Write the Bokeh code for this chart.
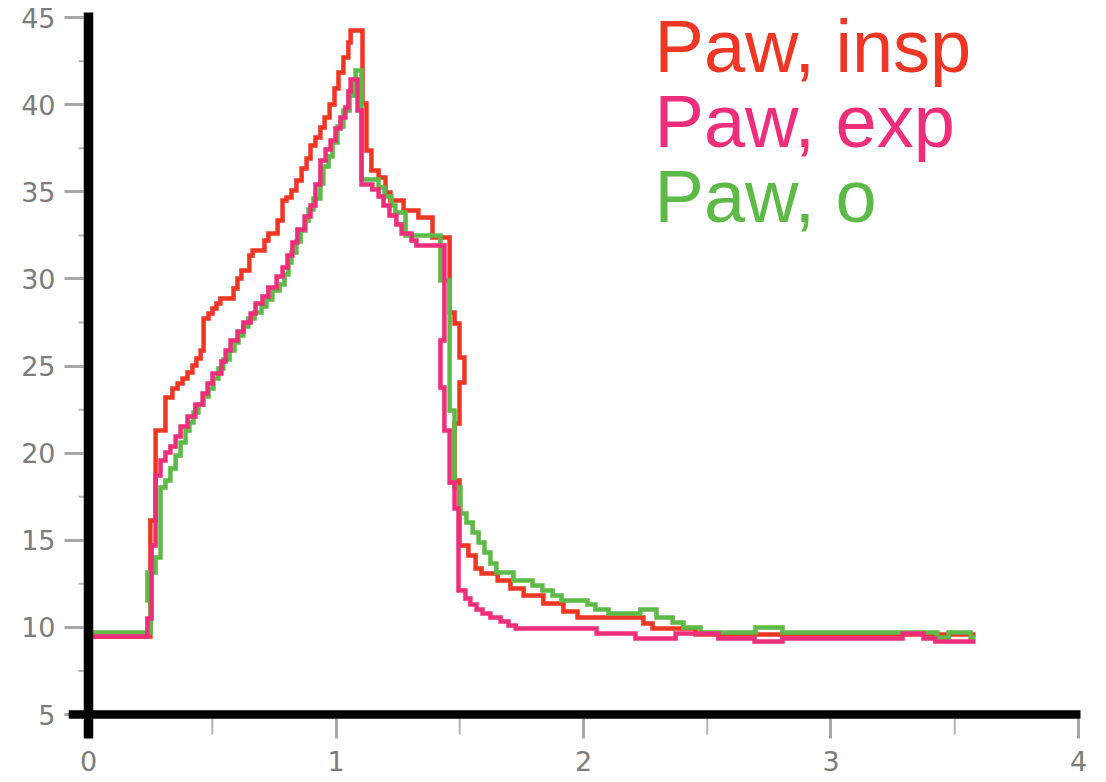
from bokeh.plotting import figure
from bokeh.models import Range1d, FixedTicker, Label
from bokeh.embed import file_html
from bokeh.resources import INLINE

# ---- data (time in s, airway pressure) ----
series_names = ["Paw, insp", "Paw, exp", "Paw, o"]
series_colors = ["#EF3524", "#EE2E7B", "#5DBA47"]

red_t = [0.008, 0.250, 0.271, 0.311, 0.339, 0.360, 0.380, 0.400, 0.420, 0.436, 0.453, 0.465, 0.485, 0.501,
         0.517, 0.533, 0.586, 0.602, 0.618, 0.650, 0.663, 0.711, 0.727, 0.764, 0.784, 0.800, 0.820, 0.840,
         0.861, 0.881, 0.897, 0.917, 0.937, 0.954, 0.974, 0.994, 1.010, 1.030, 1.050, 1.059, 1.107, 1.123,
         1.143, 1.172, 1.200, 1.220, 1.273, 1.333, 1.390, 1.459, 1.479, 1.499, 1.519, 1.499, 1.479, 1.499,
         1.535, 1.564, 1.588, 1.653, 1.705, 1.758, 1.838, 1.919, 1.976, 2.242, 2.279, 2.453, 3.584]
red_p = [9.48, 16.14, 21.30, 23.20, 23.71, 24.00, 24.29, 24.63, 25.03, 25.44, 25.90, 27.73, 28.02, 28.31,
         28.59, 28.88, 29.45, 30.03, 30.49, 31.35, 31.64, 32.21, 32.61, 33.36, 34.51, 34.68, 35.08, 35.65,
         36.34, 36.92, 37.66, 38.12, 38.70, 39.27, 40.02, 40.94, 41.85, 42.72, 43.58, 44.27, 40.07, 37.38,
         36.23, 35.83, 34.97, 34.51, 33.93, 33.53, 32.38, 28.08, 27.45, 25.49, 24.06, 21.70, 18.43, 14.70,
         14.13, 13.38, 13.09, 12.69, 12.23, 11.83, 11.37, 10.91, 10.57, 10.22, 9.94, 9.59, 9.59]

pink_t = [0.008, 0.238, 0.255, 0.271, 0.291, 0.311, 0.331, 0.352, 0.372, 0.400, 0.432, 0.461, 0.481, 0.501,
          0.537, 0.554, 0.574, 0.602, 0.626, 0.655, 0.675, 0.703, 0.727, 0.760, 0.784, 0.804, 0.824, 0.844,
          0.873, 0.897, 0.917, 0.937, 0.958, 0.978, 0.998, 1.018, 1.038, 1.050, 1.059, 1.087, 1.103, 1.147,
          1.172, 1.192, 1.216, 1.244, 1.265, 1.305, 1.325, 1.438, 1.422, 1.438, 1.459, 1.479, 1.495, 1.523,
          1.543, 1.568, 1.592, 1.624, 1.665, 1.697, 1.726, 2.053, 2.210, 2.372, 2.545, 2.691, 2.804, 3.289,
          3.374, 3.422, 3.584]
pink_p = [9.48, 10.51, 14.70, 18.72, 19.58, 20.04, 20.38, 20.96, 21.53, 22.11, 22.80, 23.43, 24.00, 24.58,
          25.26, 25.90, 26.47, 26.99, 27.50, 28.02, 28.59, 29.00, 29.51, 30.14, 30.66, 31.35, 32.10, 32.84,
          33.59, 34.22, 35.42, 36.80, 37.43, 37.95, 38.64, 39.27, 39.84, 40.76, 41.45, 39.67, 35.42, 35.14,
          34.74, 34.22, 33.65, 33.13, 32.61, 32.21, 31.92, 26.47, 23.77, 21.30, 18.32, 16.83, 12.12, 11.66,
          11.31, 11.03, 10.80, 10.57, 10.34, 10.11, 9.94, 9.65, 9.36, 9.65, 9.36, 9.19, 9.36, 9.65,
          9.36, 9.19, 9.19]

green_t = [0.008, 0.251, 0.238, 0.271, 0.291, 0.311, 0.331, 0.352, 0.372, 0.392, 0.408, 0.424, 0.444, 0.465,
           0.485, 0.505, 0.525, 0.545, 0.570, 0.590, 0.606, 0.626, 0.646, 0.671, 0.699, 0.719, 0.743, 0.772,
           0.792, 0.808, 0.820, 0.840, 0.857, 0.877, 0.889, 0.909, 0.937, 0.949, 0.970, 0.986, 1.006, 1.030,
           1.055, 1.071, 1.079, 1.103, 1.172, 1.196, 1.224, 1.240, 1.281, 1.422, 1.459, 1.479, 1.503, 1.527,
           1.552, 1.576, 1.600, 1.624, 1.648, 1.717, 1.794, 1.834, 1.875, 1.911, 2.016, 2.048, 2.101, 2.230,
           2.295, 2.360, 2.404, 2.473, 2.695, 2.804, 3.430, 3.475, 3.564, 3.584]
green_p = [9.71, 11.54, 13.15, 14.01, 18.03, 18.43, 19.12, 19.87, 20.61, 21.30, 21.76, 22.34, 22.80, 23.25,
           23.71, 24.29, 24.86, 25.38, 25.90, 26.35, 26.76, 27.27, 27.73, 28.08, 28.42, 28.82, 29.34, 29.68,
           30.26, 30.95, 31.52, 32.15, 32.78, 33.36, 33.99, 34.62, 35.48, 36.46, 37.03, 37.84, 38.75, 39.67,
           40.53, 41.40, 41.97, 35.71, 35.25, 34.74, 34.22, 33.82, 32.50, 29.91, 22.45, 18.03, 16.54, 16.02,
           15.45, 14.87, 14.30, 13.67, 13.15, 12.69, 12.41, 12.12, 11.83, 11.54, 11.31, 11.03, 10.80, 11.03,
           10.57, 10.28, 9.99, 9.71, 9.99, 9.71, 9.42, 9.71, 9.42, 9.42]

x_ticks = [0, 1, 2, 3, 4]
y_ticks = [5, 10, 15, 20, 25, 30, 35, 40, 45]
x_minor = [0.5, 1.5, 2.5, 3.5]
y_minor = [7.5, 12.5, 17.5, 22.5, 27.5, 32.5, 37.5, 42.5]

# ---- figure ----
p = figure(width=1106, height=782,
           x_range=Range1d(-0.097, 4.0566), y_range=Range1d(3.6223, 45.987),
           output_backend="svg", toolbar_location=None,
           min_border_left=64, min_border_right=14, min_border_top=0, min_border_bottom=44)
p.outline_line_color = None
p.xgrid.visible = False
p.ygrid.visible = False
p.background_fill_color = "white"
p.border_fill_color = "white"

for ax in (p.xaxis[0], p.yaxis[0]):
    ax.axis_line_color = None
    ax.major_tick_out = 0
    ax.minor_tick_line_color = None
    ax.major_tick_line_color = "#a8a8a8"
    ax.major_tick_line_width = 3
    ax.major_label_text_font = "DejaVu Sans"
    ax.major_label_text_font_size = "27px"
    ax.major_label_text_color = "#7c7c7c"
p.xaxis.ticker = FixedTicker(ticks=x_ticks)
p.yaxis.ticker = FixedTicker(ticks=y_ticks)
p.xaxis.major_tick_in = 20
p.yaxis.major_tick_in = 19
p.xaxis.major_label_standoff = 12
p.yaxis.major_label_standoff = 9

# minor tick marks
p.segment(x0=[-0.04] * len(y_minor), y0=y_minor, x1=[-0.016] * len(y_minor), y1=y_minor,
          line_color="#b4b4b4", line_width=2)
p.segment(x0=x_minor, y0=[y_ticks[0] - 0.23] * len(x_minor), x1=x_minor, y1=[y_ticks[0] - 1.15] * len(x_minor),
          line_color="#b4b4b4", line_width=2)

# curves
for t, v, c in ((red_t, red_p, series_colors[0]), (green_t, green_p, series_colors[2]),
                (pink_t, pink_p, series_colors[1])):
    p.step(t, v, mode="after", line_color=c, line_width=4.5, line_join="miter")

# thick black axis lines (drawn above the tick marks)
ya = p.segment(x0=[x_ticks[0]], y0=[y_ticks[0] - 1.38], x1=[x_ticks[0]], y1=[y_ticks[-1] + 0.3],
               line_color="black", line_width=9.5, line_cap="butt")
xa = p.segment(x0=[x_ticks[0] - 0.08], y0=[y_ticks[0]], x1=[x_ticks[-1] + 0.008], y1=[y_ticks[0]],
               line_color="black", line_width=8.5, line_cap="butt")
ya.level = "annotation"
xa.level = "annotation"

# legend as coloured text
for name, col, yb in zip(series_names, series_colors, [43.35, 39.04, 34.74]):
    p.add_layout(Label(x=2.287, y=yb, text=name, text_color=col, text_font="Liberation Sans",
                       text_font_size="74px", text_baseline="alphabetic", text_align="left"))

open("out.html", "w").write(file_html(p, INLINE))
